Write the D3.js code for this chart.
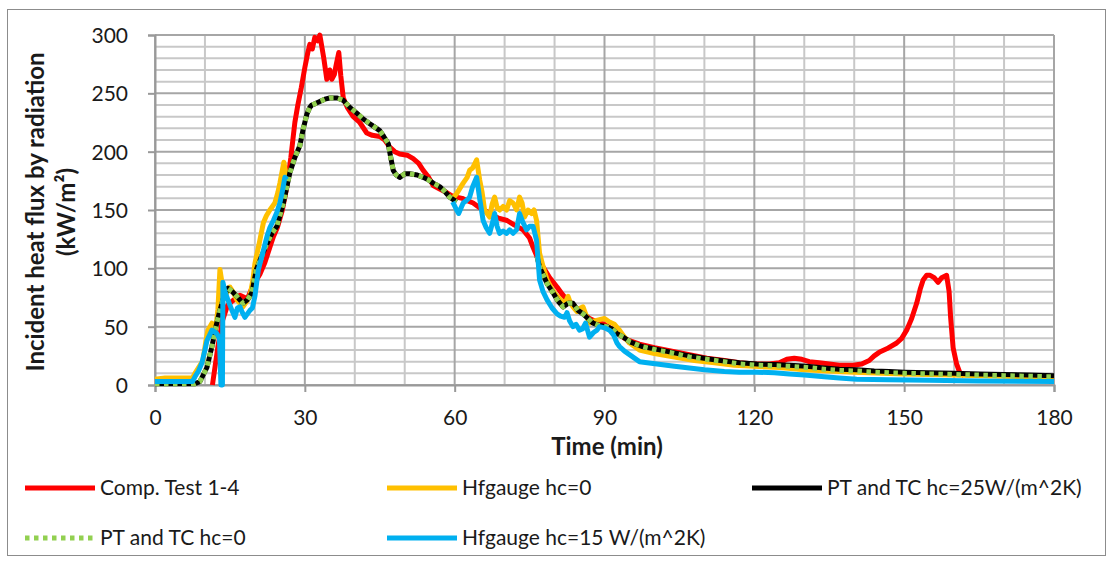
<!DOCTYPE html>
<html>
<head>
<meta charset="utf-8">
<script src="https://cdn.jsdelivr.net/npm/d3@7"></script>
<style>
  body { margin: 0; background: #fff; }
  svg text { font-family: Lato, "Open Sans", sans-serif; fill: #1a1a1a; }
</style>
</head>
<body>
<div id="chart"></div>
<script>
// series names + colours, same order as the legend
const seriesNames = ["Comp. Test 1-4", "Hfgauge hc=0", "PT and TC hc=25W/(m^2K)", "PT and TC hc=0", "Hfgauge hc=15 W/(m^2K)"];
const seriesColors = ["#ff0000", "#ffc000", "#000000", "#92d050", "#00b0f0"];

const xTicks = [0, 30, 60, 90, 120, 150, 180];
const yTicks = [0, 50, 100, 150, 200, 250, 300];

// [time (min), flux (kW/m2)], null = no data
const compTest = [[11.5,0],[12.6,33],[13.5,55],[14.5,68],[15.5,72],[17,77],[18.5,74],[19.6,85],[21,95],[22,105],[23,118],[23.7,127],[24.5,135],[25.5,150],[26.4,170],[27.2,195],[28,225],[28.6,240],[29.3,255],[30,272],[30.6,285],[31,292],[31.5,288],[32,298],[32.6,295],[33,300],[33.4,290],[33.8,280],[34.4,262],[35,270],[35.4,262],[35.9,266],[36.3,275],[36.8,285],[37.2,265],[37.7,246],[38.5,238],[39.7,230],[41,225],[42.4,216],[43.5,214],[45,213],[46,210],[47,204],[48,200],[49,198],[50.5,197],[51.7,194],[52.8,190],[53.7,184],[54.8,178],[55.7,171],[57,168],[58.4,165],[59.5,162],[60.4,161],[61.5,160],[62.5,158],[63.7,156],[65,152],[67,147],[68.8,143],[70.5,141],[72,137],[73.7,133],[75,126],[75.7,118],[76.7,108],[77.7,101],[79,92],[80.5,84],[81.5,78],[82.5,73],[84,67],[85.5,62],[87,57],[88.5,54],[90,52],[91.5,48],[92.5,45],[94,40],[95,38],[97,35],[100,32],[103.5,29],[107,26],[110.5,23],[114,21],[117,19],[120,18],[123,18],[125,19],[126.5,22],[128,23],[129.5,22],[131,20],[133,19],[135,18],[137,17],[139.8,17],[141.5,18],[143,21],[144,25],[145,28],[146.5,31],[148.5,36],[149.5,40],[150.5,47],[151.5,57],[152.5,70],[153.2,82],[153.8,90],[154.5,94],[155.2,94],[156,92],[156.8,88],[157.5,92],[158.5,94],[159,80],[159.3,58],[159.8,32],[160.5,18],[161.2,10],[162,8]];

const hfgauge0 = [[0,5],[2,6],[4,6],[6,6],[7.5,6],[8,10],[8.6,14],[9.6,21],[10.2,38],[10.6,47],[11.4,53],[12,42],[12.6,65],[13,99],[13.4,88],[14,76],[15,84],[15.6,80],[16.4,73],[17.6,67],[18.4,72],[19,76],[19.6,90],[20,104],[20.8,120],[21.7,139],[22.3,145],[23,150],[24,156],[24.6,165],[25,173],[25.8,191],[26.4,176],[27,182],[27.3,null],
  [59.6,160],[60.4,164],[61.7,173],[62.5,178],[63,184],[63.6,186],[64.4,193],[65,176],[65.5,165],[66,150],[67,144],[67.5,155],[68,161],[68.5,152],[69,150],[69.7,153],[70.4,150],[71,158],[71.7,156],[72.4,150],[73,161],[73.5,156],[74,144],[74.7,150],[75.4,147],[75.9,150],[76.4,141],[77,113],[77.8,100],[78.5,90],[79.5,82],[80.5,76],[81.5,72],[82.2,71],[82.7,76],[83.2,70],[83.7,67],[84.5,63],[85.2,66],[85.7,67],[86.3,60],[87,53],[88,55],[89,56],[90,57],[91,54],[92,52],[93,47],[94,41],[95,36],[96,33],[97,30],[100,27],[104,24],[108,21],[112,19],[116,17],[120,16],[125,15],[130,13],[135,12],[140,11],[150,9.5],[160,8.5],[170,7.5],[180,6.5]];

const ptTc25 = [[0,1],[8,1],[9,3],[10.4,15],[11.4,33],[12.2,50],[13,64],[13.8,76],[14.6,83],[15.5,80],[16.4,76],[17.6,70],[18.5,73],[19.4,79],[20.3,99],[21.3,110],[22.4,121],[23.4,130],[24.4,136],[25.7,156],[27,182],[28,195],[29,205],[29.7,220],[30.4,232],[31,238],[31.4,240],[32,241],[33,243],[34,245],[35,246],[35.7,246],[36.5,246],[37.7,244],[39,238],[40.4,233],[41.7,228],[43,224],[44,221],[45,218],[45.8,213],[46.7,207],[47.2,195],[47.7,184],[48.3,180],[49,178],[50,181],[51,181],[52.5,180],[53.7,178],[54.7,176],[55.7,173],[57,170],[58,166],[59,161],[60.4,157],[60.8,null],
  [76.5,110],[77,101],[78.5,87],[79.7,79],[80.7,72],[81.7,67],[82.7,70],[83.7,70],[84.7,64],[85.7,61],[86.7,57],[87.7,53],[89,51],[90.5,50],[91.5,48],[92.5,44],[93.8,41],[95.1,37],[97.5,33],[100.5,30.5],[104,27.5],[107,25],[110.5,22.5],[114,20.5],[117,19],[120.5,18],[124,17.5],[127,17],[130.5,16],[134,14.5],[137,13.5],[140.5,13],[144,12],[147,11.5],[150,11],[155,10.5],[160,10],[165,9.5],[170,9],[175,8.5],[180,8]];

const ptTc0 = [[0,1],[8,1],[9,3],[10.4,15],[11.4,33],[12.2,50],[13,64],[13.8,76],[14.6,83],[15.5,80],[16.4,76],[17.6,70],[18.5,73],[19.4,79],[20.3,99],[21.3,110],[22.4,121],[23.4,130],[24.4,136],[25.7,156],[27,182],[28,195],[29,205],[29.7,220],[30.4,232],[31,238],[31.4,240],[32,241],[33,243],[34,245],[35,246],[35.7,246],[36.5,246],[37.7,244],[39,238],[40.4,233],[41.7,228],[43,224],[44,221],[45,218],[45.8,213],[46.7,207],[47.2,195],[47.7,184],[48.3,180],[49,178],[50,181],[51,181],[52.5,180],[53.7,178],[54.7,176],[55.7,173],[57,170],[58,166],[59,161],[60.4,157],[60.8,null],
  [76.5,110],[77,101],[78.5,87],[79.7,79],[80.7,72],[81.7,67],[82.7,70],[83.7,70],[84.7,64],[85.7,61],[86.7,57],[87.7,53],[89,51],[90.5,50],[91.5,48],[92.5,44],[93.8,41],[95.1,37],[97.5,33],[100.5,30],[104,27],[107,24],[110.5,22],[114,20],[117,18],[120.5,17],[124,16.5],[127,16],[130.5,15],[134,13.5],[137,12.5],[140.5,12],[144,11],[147,10.5],[150,10],[155,9.5],[160,9],[165,8.5],[170,8],[175,7.5],[180,7]];

const hfgauge15 = [[0,3],[4,3],[7.5,3],[8,7],[8.7,12],[9.4,19],[10,30],[10.4,38],[11.4,47],[12.4,44],[12.9,40],[13.2,0],[13.5,0],[13.6,88],[14,80],[14.6,73],[15.4,64],[16,58],[16.5,66],[17,67],[17.5,62],[18,58],[18.5,61],[19,64],[19.5,66],[20,76],[20.7,99],[21.5,112],[22.4,127],[23,135],[23.7,141],[24.4,148],[25,156],[25.5,166],[26,178],[26.4,176],[26.8,null],
  [59.6,157],[60.4,150],[60.8,147],[61.7,156],[62.3,158],[63,161],[63.6,170],[64.4,178],[65,160],[65.7,141],[66.3,135],[67,130],[67.5,138],[68,147],[68.5,136],[69,130],[69.7,132],[70.4,130],[71,133],[71.7,130],[72.4,133],[73,147],[73.6,140],[74.4,133],[75,136],[75.7,136],[76.4,124],[77,90],[77.7,80],[78.5,73],[79.5,66],[80.5,61],[81.2,59],[82,58],[82.5,62],[83,55],[83.7,50],[84.3,52],[85,47],[85.6,48],[86.2,53],[87,41],[87.8,45],[88.5,47],[89,50],[90,49],[91,47],[91.8,43],[92.5,36],[93,33],[94,29],[95,26],[96,23],[97,20],[100.5,18],[104,16],[107,14.5],[110,13],[114,11.5],[117,11],[120.5,11],[124,10.5],[127,9.5],[130,8.5],[134,7],[137,6],[140.5,5],[147,4.5],[155,4],[165,3.5],[180,3]];

const allSeries = [compTest, hfgauge0, ptTc25, ptTc0, hfgauge15];

const W = 1117, H = 562;
const svg = d3.select('#chart').append('svg')
  .attr('width', W).attr('height', H);

svg.append('rect').attr('width', W).attr('height', H).attr('fill', '#fff');
// chart border
svg.append('rect')
  .attr('x', 7.5).attr('y', 9.5).attr('width', 1098).attr('height', 546)
  .attr('fill', 'none').attr('stroke', '#8c8c8c').attr('stroke-width', 1);

const x = d3.scaleLinear().domain([0, 180]).range([155, 1054]);
const y = d3.scaleLinear().domain([0, 300]).range([385, 35]);

//grid: minor then major
const grid = svg.append('g');
grid.selectAll('.vmin').data(d3.range(0, 181, 10).filter(d => d % 30 != 0)).enter()
  .append('line').attr('x1', d => x(d)).attr('x2', d => x(d)).attr('y1', y(0)).attr('y2', y(300))
  .attr('stroke', '#c8c8c8').attr('stroke-width', 2);
grid.selectAll('.hmin').data(d3.range(0, 301, 10).filter(d => d % 50 != 0)).enter()
  .append('line').attr('x1', x(0)).attr('x2', x(180)).attr('y1', d => y(d)).attr('y2', d => y(d))
  .attr('stroke', '#c8c8c8').attr('stroke-width', 2);
grid.selectAll('.vmaj').data(xTicks).enter()
  .append('line').attr('x1', d => x(d)).attr('x2', d => x(d)).attr('y1', y(0)).attr('y2', y(300))
  .attr('stroke', '#a6a6a6').attr('stroke-width', 2);
grid.selectAll('.hmaj').data(yTicks).enter()
  .append('line').attr('x1', x(0)).attr('x2', x(180)).attr('y1', d => y(d)).attr('y2', d => y(d))
  .attr('stroke', '#a6a6a6').attr('stroke-width', 2);

// axes
const xAxis = svg.append('g').attr('transform', `translate(0,${y(0)})`)
  .call(d3.axisBottom(x).tickValues(xTicks).tickSize(7).tickPadding(18));
const yAxis = svg.append('g').attr('transform', `translate(${x(0)},0)`)
  .call(d3.axisLeft(y).tickValues(yTicks).tickSize(7).tickPadding(20));
[xAxis, yAxis].forEach(a => {
  a.select('.domain').attr('stroke', '#999').attr('stroke-width', 2);
  a.selectAll('.tick line').attr('stroke', '#999').attr('stroke-width', 2);
  a.selectAll('.tick text').attr('font-size', 21).attr('fill', '#1a1a1a')
    .style('font-family', 'Lato, sans-serif');
});
yAxis.selectAll('.tick text').attr('dy', '0.36em');

// lines
const line = d3.line()
  .defined(d => d[1] != null)
  .x(d => x(d[0]))
  .y(d => y(d[1]));

allSeries.forEach((s, i) => {
  svg.append('path')
    .datum(s)
    .attr('d', line)
    .attr('fill', 'none')
    .attr('stroke', seriesColors[i])
    .attr('stroke-width', 5)
    .attr('stroke-linejoin', 'round')
    .attr('stroke-dasharray', i == 3 ? '4.5,4.5' : null);
});

// axis titles
svg.append('text')
  .attr('x', 607).attr('y', 455)
  .attr('text-anchor', 'middle')
  .attr('font-size', 24).attr('font-weight', 'bold')
  .text('Time (min)');

const yt = svg.append('text')
  .attr('transform', 'translate(44,212) rotate(-90)')
  .attr('text-anchor', 'middle')
  .attr('font-size', 24).attr('font-weight', 'bold');
yt.append('tspan').attr('x', 0).attr('dy', 0).text('Incident heat flux by radiation');
yt.append('tspan').attr('x', 0).attr('dy', 31).text('(kW/m²)');

// legend
const legendPos = [[25, 488], [387, 488], [752, 488], [25, 538], [387, 538]];
const lg = svg.selectAll('.legend').data(seriesNames).enter()
  .append('g').attr('class', 'legend')
  .attr('transform', (d, i) => `translate(${legendPos[i][0]},${legendPos[i][1]})`);
lg.append('line')
  .attr('x1', 0).attr('x2', 70).attr('y1', 0).attr('y2', 0)
  .attr('stroke', (d, i) => seriesColors[i])
  .attr('stroke-width', 5)
  .attr('stroke-dasharray', (d, i) => i == 3 ? '4.5,4.5' : null);
lg.append('text')
  .attr('x', 75).attr('y', 0).attr('dy', '0.35em')
  .attr('font-size', 21)
  .text(d => d);
</script>
</body>
</html>
